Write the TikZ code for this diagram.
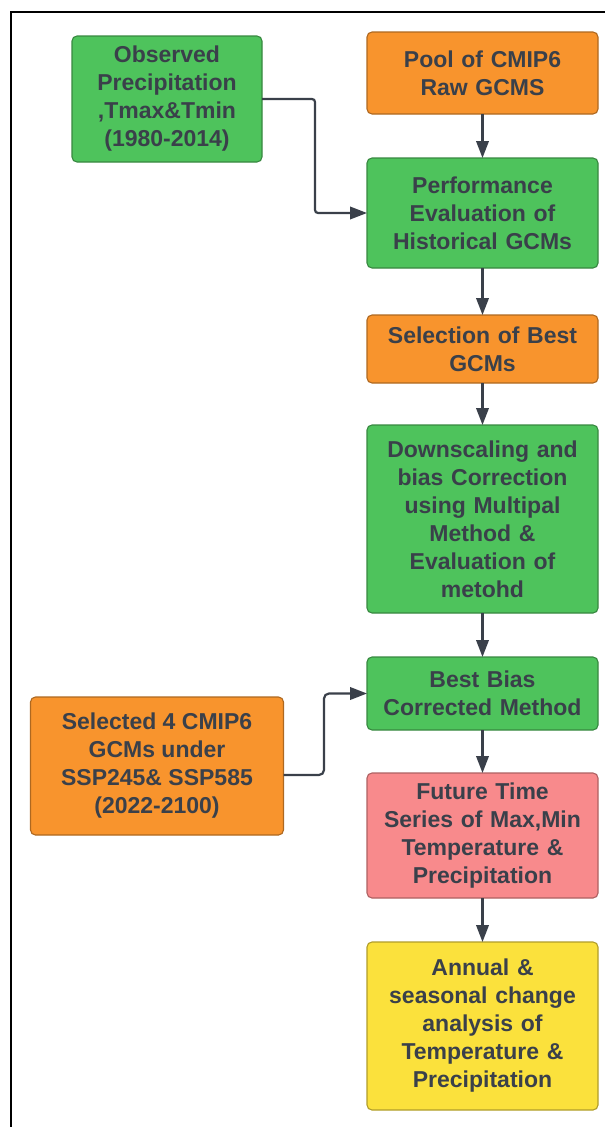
\documentclass[tikz,border=0pt]{standalone}
\usepackage{fontspec}
\setmainfont{Liberation Sans}
\usepackage{xcolor}
\usepackage{tikz}
\usetikzlibrary{
  arrows.meta,
  positioning
}
\definecolor{stepgreen}{HTML}{4EC35C}
\definecolor{steporange}{HTML}{F8942D}
\definecolor{steppink}{HTML}{F88A8C}
\definecolor{stepyellow}{HTML}{FBE13C}
\definecolor{inkcolor}{HTML}{3A404A}

\begin{document}
\begin{tikzpicture}[
  x=1pt, y=-1pt,
  box/.style={draw=#1!70!black, fill=#1, rounded corners=5pt, line width=1.1pt,
    align=center, text=inkcolor, inner sep=2pt, outer sep=0pt,
    font=\fontsize{23}{28}\selectfont\bfseries},
  colbox/.style={box=#1, minimum width=231pt, text width=227pt},
  flow/.style={draw=inkcolor, line width=2.2pt, -{Triangle[length=17pt,width=12.5pt]}},
]
  \useasboundingbox (0,0) rectangle (605,1127);

  % Frame
  \draw[line width=1.4pt] (11,1127) -- (11,12) -- (605,12);

  % Main column
  \node[colbox=steporange, minimum height=82pt] (pool) at (482.5,73)
    {Pool of CMIP6\\Raw GCMS};
  \node[colbox=stepgreen, minimum height=110pt, below=44pt of pool] (perf)
    {Performance\\Evaluation of\\Historical GCMs};
  \node[colbox=steporange, minimum height=68pt, below=47pt of perf] (best)
    {Selection of Best\\GCMs};
  \node[colbox=stepgreen, minimum height=188pt, below=42pt of best] (down)
    {Downscaling and\\bias Correction\\using Multipal\\Method \&\\Evaluation of\\metohd};
  \node[colbox=stepgreen, minimum height=73pt, below=44pt of down] (bias)
    {Best Bias\\Corrected Method};
  \node[colbox=steppink, minimum height=125pt, below=43pt of bias] (future)
    {Future Time\\Series of Max,Min\\Temperature \&\\Precipitation};
  \node[colbox=stepyellow, minimum height=168pt, below=44pt of future] (annual)
    {Annual \&\\seasonal change\\analysis of\\Temperature \&\\Precipitation};

  % Inputs
  \node[box=stepgreen, minimum width=190pt, minimum height=126pt] (obs) at (167,99)
    {Observed\\Precipitation\\,Tmax\&Tmin\\(1980-2014)};
  \node[box=steporange, minimum width=253pt, minimum height=138pt] (ssp) at (157,766)
    {Selected 4 CMIP6\\GCMs under\\SSP245\& SSP585\\(2022-2100)};

  % Arrows
  \draw[flow] (pool) -- (perf);
  \draw[flow] (perf) -- (best);
  \draw[flow] (best) -- (down);
  \draw[flow] (down) -- (bias);
  \draw[flow] (bias) -- (future);
  \draw[flow] (future) -- (annual);
  \draw[flow, rounded corners=3pt] (obs.east) -| (315,150) |- (perf.west);
  \draw[flow, rounded corners=5pt] ([yshift=-9pt]ssp.east) -| (324,720) |- (bias.west);
\end{tikzpicture}
\end{document}
